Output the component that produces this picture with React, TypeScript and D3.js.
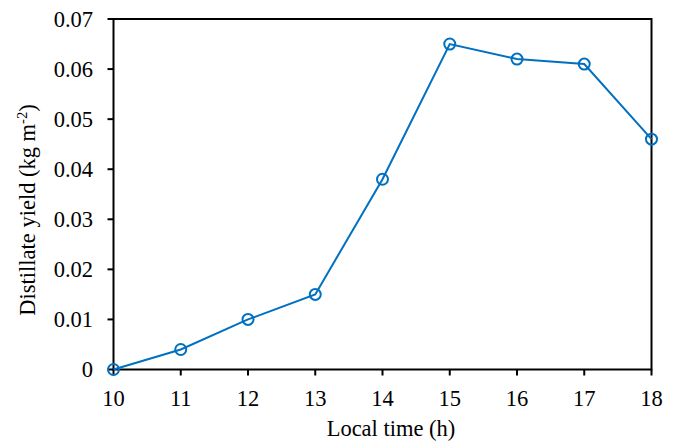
import React from "react";
import { scaleLinear, line } from "d3";

const hours = [10, 11, 12, 13, 14, 15, 16, 17, 18];
const yieldValues = [0, 0.004, 0.01, 0.015, 0.038, 0.065, 0.062, 0.061, 0.046];
const yTicks = [0, 0.01, 0.02, 0.03, 0.04, 0.05, 0.06, 0.07];
const yTickLabels = ["0", "0.01", "0.02", "0.03", "0.04", "0.05", "0.06", "0.07"];

const App = () => {
  const width = 675;
  const height = 441;
  const left = 113.5;
  const right = 651.5;
  const top = 19;
  const bottom = 369.5;
  const blue = "#0070C0";
  const font = "Liberation Serif, Tinos, Times New Roman, serif";
  const fs = 22.5;

  const xScale = scaleLinear().domain([10, 18]).range([left, right]);
  const yScale = scaleLinear().domain([0, 0.07]).range([bottom, top]);

  const path = line<number>()
    .x((d, i) => xScale(hours[i]))
    .y((d) => yScale(d))(yieldValues);

  return (
    <svg
      width={width}
      height={height}
      style={{ position: "absolute", left: 0, top: 0, background: "#fff", fontFamily: font }}
    >
      {/* frame */}
      <rect
        x={left}
        y={top}
        width={right - left}
        height={bottom - top}
        fill="none"
        stroke="#000"
        strokeWidth={2}
      />
      {/* y ticks */}
      {yTicks.map((t, i) => (
        <g key={t}>
          <line x1={left - 6} x2={left} y1={yScale(t)} y2={yScale(t)} stroke="#000" strokeWidth={2} />
          <text
            x={93}
            y={yScale(t) + 7.5}
            textAnchor="end"
            style={{ fontFamily: font, fontSize: fs }}
            fill="#000"
          >
            {yTickLabels[i]}
          </text>
        </g>
      ))}
      {/* x ticks */}
      {hours.map((h) => (
        <g key={h}>
          <line x1={xScale(h)} x2={xScale(h)} y1={bottom} y2={bottom + 6} stroke="#000" strokeWidth={2} />
          <text
            x={xScale(h)}
            y={406}
            textAnchor="middle"
            style={{ fontFamily: font, fontSize: fs }}
            fill="#000"
          >
            {h}
          </text>
        </g>
      ))}
      <path d={path ?? ""} fill="none" stroke={blue} strokeWidth={2} />
      {yieldValues.map((v, i) => (
        <circle
          key={i}
          cx={xScale(hours[i])}
          cy={yScale(v)}
          r={5.5}
          fill="none"
          stroke={blue}
          strokeWidth={2}
        />
      ))}
      <text
        x={391}
        y={436}
        textAnchor="middle"
        style={{ fontFamily: font, fontSize: fs }}
        fill="#000"
      >
        Local time (h)
      </text>
      <text
        transform={`translate(35, 210) rotate(-90)`}
        textAnchor="middle"
        style={{ fontFamily: font, fontSize: fs }}
        fill="#000"
      >
        Distillate yield (kg m
        <tspan dy={-8} style={{ fontSize: 14.5 }}>-2</tspan>
        <tspan dy={8}>)</tspan>
      </text>
    </svg>
  );
};

export default App;
